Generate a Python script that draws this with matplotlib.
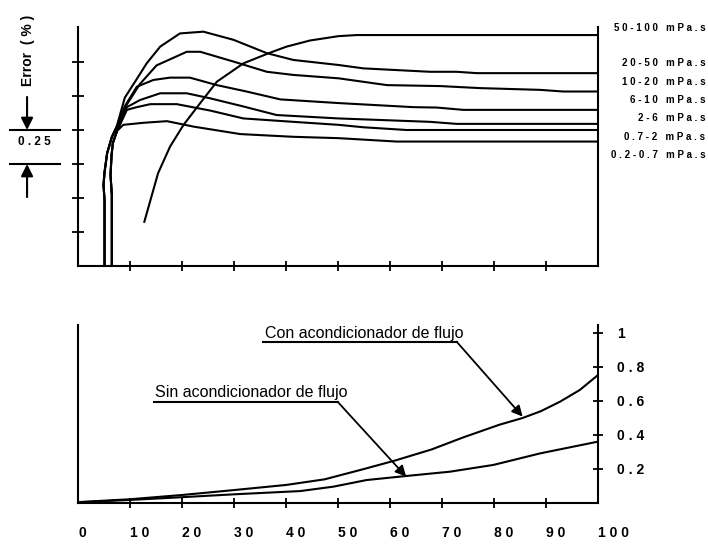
import matplotlib.pyplot as plt

plt.rcParams["font.family"] = ["Liberation Sans", "DejaVu Sans"]

# top chart: error (%) against flow (% of range), one curve per viscosity range
visc_labels = ["50-100 mPa.s", "20-50 mPa.s", "10-20 mPa.s", "6-10 mPa.s",
               "2-6 mPa.s", "0.7-2 mPa.s", "0.2-0.7 mPa.s"]

c50_100_x = [12.75, 15.4, 17.7, 20.3, 23.5, 26.7, 31.8, 36.9, 40.1, 44.6, 50.1, 53.6, 100]
c50_100_y = [0.325, 0.683, 0.878, 1.038, 1.198, 1.355, 1.49, 1.568, 1.613, 1.658, 1.69, 1.698, 1.698]

c20_50_x = [5.1, 5.1, 4.9, 5.1, 5.6, 6.5, 7.4, 9.0, 11.3, 13.2, 15.8, 19.6, 24.1, 29.9,
            36.3, 41.4, 50.1, 54.9, 67.7, 72.8, 76.7, 100]
c20_50_y = [0, 0.485, 0.595, 0.69, 0.83, 0.948, 1.02, 1.238, 1.375, 1.49, 1.613, 1.71,
            1.723, 1.663, 1.565, 1.515, 1.478, 1.453, 1.428, 1.428, 1.418, 1.418]

c10_20_x = [5.1, 5.1, 4.9, 5.1, 5.6, 6.5, 7.4, 9.4, 11.9, 15.1, 20.9, 23.5, 29.9, 36.3,
            41.4, 50.1, 59.4, 69.6, 77.3, 88.9, 93.3, 100]
c10_20_y = [0, 0.485, 0.595, 0.69, 0.83, 0.948, 1.02, 1.188, 1.338, 1.475, 1.575, 1.575,
            1.503, 1.428, 1.405, 1.38, 1.33, 1.323, 1.308, 1.295, 1.283, 1.283]

c6_10_x = [5.1, 5.1, 4.9, 5.1, 5.6, 6.5, 7.4, 9.0, 11.3, 14.5, 17.7, 21.5, 26.7, 32.4,
           38.9, 50.1, 64.5, 69.0, 74.1, 100]
c6_10_y = [0, 0.485, 0.595, 0.69, 0.83, 0.948, 1.02, 1.175, 1.318, 1.368, 1.385, 1.385,
           1.33, 1.283, 1.225, 1.198, 1.168, 1.165, 1.148, 1.148]

c2_6_x = [6.5, 6.5, 6.25, 6.45, 6.7, 7.5, 9.4, 11.9, 15.8, 20.9, 25.4, 31.8, 38.2, 50.1,
          67.7, 72.8, 100]
c2_6_y = [0, 0.522, 0.669, 0.816, 0.904, 0.993, 1.168, 1.22, 1.27, 1.27, 1.233, 1.173,
          1.11, 1.085, 1.06, 1.045, 1.045]

c07_2_x = [6.5, 6.5, 6.25, 6.45, 6.7, 7.5, 9.4, 11.3, 13.9, 19.0, 25.4, 31.8, 41.4, 50.1,
           54.9, 63.2, 100]
c07_2_y = [0, 0.522, 0.669, 0.816, 0.904, 0.993, 1.148, 1.168, 1.19, 1.19, 1.143, 1.085,
           1.06, 1.038, 1.02, 1.0, 1.0]

c02_07_x = [6.5, 6.5, 6.25, 6.45, 6.7, 7.5, 8.7, 12.6, 17.1, 22.2, 31.2, 41.4, 50.1, 61.3, 100]
c02_07_y = [0, 0.522, 0.669, 0.816, 0.904, 0.993, 1.038, 1.053, 1.065, 1.025, 0.97, 0.95,
            0.94, 0.915, 0.915]

top_yticks = [0.25, 0.5, 0.75, 1.0, 1.25, 1.5]

# bottom chart: pressure loss with / without flow conditioner
con_x = [0, 10, 20, 30, 40, 47.4, 55, 61, 68, 74, 81, 85.5, 89, 92.7, 96.5, 100]
con_y = [0.005, 0.022, 0.047, 0.076, 0.106, 0.139, 0.2, 0.25, 0.315, 0.385, 0.46, 0.5,
         0.54, 0.596, 0.665, 0.753]
sin_x = [0, 10, 20, 30, 40, 42.7, 49.1, 55.5, 63.2, 71.5, 79.9, 88.9, 100]
sin_y = [0.004, 0.018, 0.034, 0.051, 0.066, 0.07, 0.096, 0.135, 0.159, 0.184, 0.224,
         0.292, 0.361]

x_ticks = [0, 10, 20, 30, 40, 50, 60, 70, 80, 90, 100]
bottom_yticks = [0.2, 0.4, 0.6, 0.8, 1.0]
bottom_ylabels = ["0.2", "0.4", "0.6", "0.8", "1"]


def spread(s):
    return " ".join(s)


fig = plt.figure(figsize=(7.08, 5.44), dpi=100)
ax1 = fig.add_axes([0.1102, 0.511, 0.7345, 0.4393])
ax2 = fig.add_axes([0.1102, 0.0754, 0.7345, 0.3272])

top_curves = [(c50_100_x, c50_100_y), (c20_50_x, c20_50_y), (c10_20_x, c10_20_y),
              (c6_10_x, c6_10_y), (c2_6_x, c2_6_y), (c07_2_x, c07_2_y),
              (c02_07_x, c02_07_y)]
for xs, ys in top_curves:
    ax1.plot(xs, ys, color="black", lw=1.5, solid_joinstyle="round")

for ax in (ax1, ax2):
    ax.set_xlim(0, 100)
    ax.spines["top"].set_visible(False)
    for side in ("left", "bottom", "right"):
        ax.spines[side].set_linewidth(1.5)

ax1.set_ylim(0, 1.757)
ax1.set_xticks(x_ticks[1:-1])
ax1.set_xticklabels([])
ax1.set_yticks(top_yticks)
ax1.set_yticklabels([])
ax1.tick_params(axis="x", direction="inout", length=7.5, width=1.3)
ax1.tick_params(axis="y", direction="inout", length=8, width=1.3)

# viscosity labels on the right
label_y_px = [28, 63.3, 81.7, 100, 118.3, 136.7, 155]
for lab, py in zip(visc_labels, label_y_px):
    fig.text(0.996, 1 - py / 544, spread(lab), ha="right", va="center",
             fontsize=7, fontweight="bold")

# 0.25 % scale marker at the left
tr = ax1.get_yaxis_transform()
for yv in (1.0, 0.75):
    ax1.plot([-0.131, -0.035], [yv, yv], transform=tr, color="black", lw=1.5, clip_on=False)
arrow_kw = dict(arrowstyle="-|>", color="black", lw=1.5, mutation_scale=18, shrinkA=0, shrinkB=0)
ax1.annotate("", xy=(-0.098, 1.0), xytext=(-0.098, 1.243), xycoords=tr, textcoords=tr,
             arrowprops=arrow_kw, annotation_clip=False)
ax1.annotate("", xy=(-0.098, 0.75), xytext=(-0.098, 0.507), xycoords=tr, textcoords=tr,
             arrowprops=arrow_kw, annotation_clip=False)
ax1.text(-0.083, 0.915, spread("0.25"), transform=tr, ha="center", va="center",
         fontsize=8.5, fontweight="bold")
ax1.text(-0.097, 1.585, "Error  ( % )", transform=tr, ha="center", va="center",
         rotation=90, fontsize=10, fontweight="bold")

# bottom chart
ax2.plot(con_x, con_y, color="black", lw=1.5)
ax2.plot(sin_x, sin_y, color="black", lw=1.5)
ax2.set_ylim(0, 1.047)
ax2.set_xticks(x_ticks)
ax2.set_xticklabels([spread(str(v)) for v in x_ticks], fontsize=10, fontweight="bold",
                    ha="left")
ax2.tick_params(axis="x", direction="inout", length=7.5, width=1.3, pad=13)
ticks = ax2.xaxis.get_major_ticks()
ticks[0].tick1line.set_visible(False)
ticks[-1].tick1line.set_visible(False)

ax2.yaxis.tick_right()
ax2.set_yticks(bottom_yticks)
ax2.set_yticklabels([spread(s) for s in bottom_ylabels], fontsize=10, fontweight="bold")
ax2.tick_params(axis="y", direction="inout", length=7, width=1.3, pad=10)

call_kw = dict(arrowstyle="-|>", color="black", lw=1.3, mutation_scale=16, shrinkA=0, shrinkB=0)
ax2.plot([35.5, 72.8], [0.949, 0.949], color="black", lw=1.5, clip_on=False)
ax2.annotate("", xy=(85.5, 0.508), xytext=(72.8, 0.949), arrowprops=call_kw)
ax2.text(35.9, 0.971, "Con acondicionador de flujo", fontsize=11.5, ha="left", va="baseline")

ax2.plot([14.6, 49.9], [0.596, 0.596], color="black", lw=1.5, clip_on=False)
ax2.annotate("", xy=(63.1, 0.155), xytext=(49.9, 0.596), arrowprops=call_kw)
ax2.text(14.8, 0.621, "Sin acondicionador de flujo", fontsize=11.5, ha="left", va="baseline")

fig.savefig("out.png", dpi=100)
